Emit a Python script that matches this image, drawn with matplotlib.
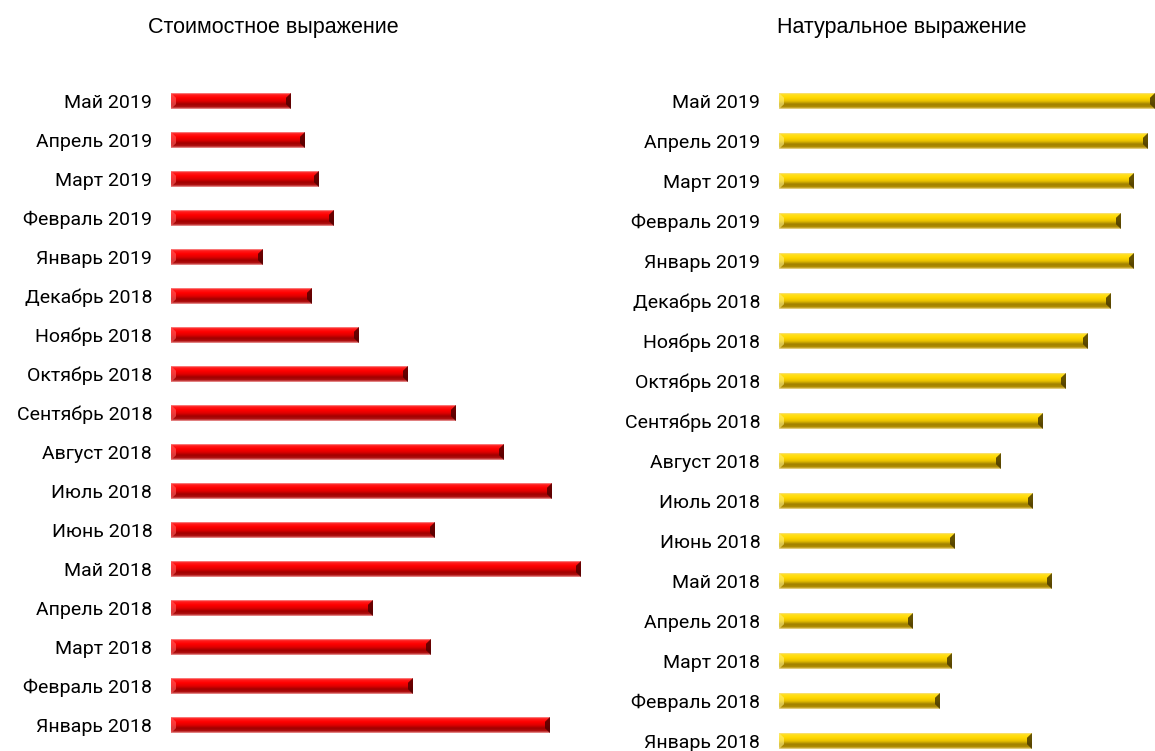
import numpy as np
import matplotlib
matplotlib.use("Agg")
import matplotlib.pyplot as plt
from matplotlib.colors import LinearSegmentedColormap
from matplotlib.patches import Polygon

# ---- data (top to bottom) ----
months = ["Май 2019", "Апрель 2019", "Март 2019", "Февраль 2019", "Январь 2019",
          "Декабрь 2018", "Ноябрь 2018", "Октябрь 2018", "Сентябрь 2018",
          "Август 2018", "Июль 2018", "Июнь 2018", "Май 2018", "Апрель 2018",
          "Март 2018", "Февраль 2018", "Январь 2018"]
value_series = [120, 134, 148, 163, 92, 141, 188, 237, 285, 333, 381, 264, 410,
                202, 260, 242, 379]
volume_series = [376, 369, 355, 342, 355, 332, 309, 287, 264, 222, 254, 176, 273,
                 134, 173, 161, 253]
title_left = "Стоимостное выражение"
title_right = "Натуральное выражение"

W, H = 1155, 751
fig = plt.figure(figsize=(W / 100, H / 100), dpi=100)
fig.patch.set_facecolor("white")

label_font = ["Roboto", "DejaVu Sans"]
title_font = ["Liberation Sans", "DejaVu Sans"]


def make_cmap(stops):
    return LinearSegmentedColormap.from_list("g", stops)


red_cmap = make_cmap([(0.0, "#f7a0a0"), (0.08, "#ff2020"), (0.3, "#ff0000"),
                      (0.5, "#e00000"), (0.7, "#a00000"), (0.88, "#b01010"),
                      (1.0, "#f0a0a0")])
gold_cmap = make_cmap([(0.0, "#f8e090"), (0.08, "#ffe020"), (0.3, "#ffd800"),
                       (0.5, "#e8c000"), (0.7, "#a08000"), (0.88, "#b08c00"),
                       (1.0, "#f0dca0")])


def panel(px_left, px_right, y_top, step, vals, cmap, base, dark, light):
    n = len(vals)
    y0 = y_top - step / 2
    y1 = y_top + step * (n - 1) + step / 2
    ax = fig.add_axes([px_left / W, 1 - y1 / H, (px_right - px_left) / W, (y1 - y0) / H])
    pos = np.arange(n)
    h = 16 / step
    bars = ax.barh(pos, vals, height=h, color=base, linewidth=0)
    grad = np.linspace(0, 1, 64).reshape(-1, 1)
    for b in bars:
        x, yb, w, hh = b.get_x(), b.get_y(), b.get_width(), b.get_height()
        im = ax.imshow(grad, cmap=cmap, extent=(x, x + w, yb + hh, yb),
                       origin="upper", aspect="auto", interpolation="bilinear",
                       zorder=2)
        im.set_clip_path(b)
        e = 5.0
        ax.add_patch(Polygon([(x + w - e, yb + hh * 0.3), (x + w, yb),
                              (x + w, yb + hh), (x + w - e, yb + hh * 0.7)],
                             closed=True, color=dark, alpha=0.85, lw=0, zorder=3))
        ax.add_patch(Polygon([(x, yb), (x + e, yb + hh * 0.3),
                              (x + e, yb + hh * 0.7), (x, yb + hh)],
                             closed=True, color=light, alpha=0.6, lw=0, zorder=3))
    ax.set_xlim(0, px_right - px_left)
    ax.set_ylim(n - 0.5, -0.5)
    ax.set_yticks(pos)
    ax.set_yticklabels(months, fontsize=14, family=label_font)
    ax.tick_params(axis="y", length=0, pad=13.5)
    ax.set_xticks([])
    for s in ax.spines.values():
        s.set_visible(False)
    ax.patch.set_alpha(0)
    return ax


panel(171, 600, 101, 39, value_series, red_cmap, "#ee0000", "#500000", "#ff6060")
panel(779, 1155, 101, 40, volume_series, gold_cmap, "#e8c000", "#4a3a00", "#fff080")

fig.text(273 / W, 1 - 28 / H, title_left, ha="center", va="center",
         fontsize=15.5, family=title_font)
fig.text(902 / W, 1 - 28 / H, title_right, ha="center", va="center",
         fontsize=15.5, family=title_font)

fig.savefig("out.png", dpi=100)
